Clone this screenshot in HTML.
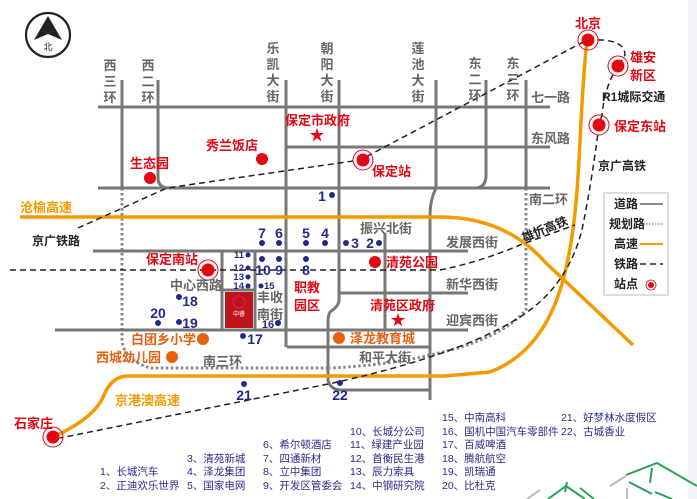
<!DOCTYPE html>
<html><head><meta charset="utf-8"><style>
html,body{margin:0;padding:0;background:#fff}
svg{display:block}
text{font-family:"Liberation Sans","Noto Sans CJK SC",sans-serif}
.g{fill:#666;font-weight:bold;font-size:13px}
.r{fill:#e30613;font-weight:bold;font-size:13px}
.o{fill:#e8600f;font-weight:bold;font-size:13px}
.b{fill:#1f2a8a;font-weight:bold;font-size:14px}
.k{fill:#222;font-weight:bold;font-size:12px}
.l{fill:#2b2b8c;font-size:10.5px}
</style></head><body>
<svg width="697" height="499" viewBox="0 0 697 499" xmlns="http://www.w3.org/2000/svg">
<rect x="0" y="0" width="697" height="499" fill="#fff"/>
<rect x="688" y="0" width="9" height="499" fill="#f4f5f8"/>
<circle cx="48" cy="35" r="22" fill="none" stroke="#222" stroke-width="2.2"/>
<polygon points="48,16 34,40 48,34 62,40" fill="#222"/>
<text x="48" y="50" font-size="9" fill="#222" text-anchor="middle">北</text>

<g fill="none" stroke="#888" stroke-width="3" stroke-dasharray="2.5,2.5">
<path d="M122,188 L122,340 Q124,360 150,368 L330,368"/>
<path d="M526,188 L526,310 Q500,340 430,355 Q390,365 330,368"/>
</g>
<g fill="none" stroke="#777" stroke-width="3">
<path d="M98,107 H550"/><path d="M287,147 H550"/><path d="M98,188 H550"/>
<path d="M122,80 V188"/><path d="M158,80 V178 Q158,188 170,188"/>
<path d="M286,80 V347"/><path d="M339,80 V300 Q339,306 330,312 Q328,316 328,322 V380 Q330,390 342,390 H430"/>
<path d="M436,80 V188 Q430,200 430,215 V400"/>
<path d="M486,80 V175 Q486,188 475,188"/>
<path d="M526,80 V188"/>
<path d="M93,251 H468"/><path d="M338,293 H468"/><path d="M55,330 H468"/><path d="M287,347 H430"/>
<path d="M222,251 V330"/><path d="M255,251 V330"/><path d="M222,290 H255"/>
<path d="M385,233 V330"/>
</g>
<g fill="none" stroke="#f29a00" stroke-width="3.5">
<path d="M20,217 L440,217 Q505,217 545,262 L633,345"/>
<path d="M587,40 C578,120 582,200 566,268 Q548,350 490,372 L445,376 L128,376 Q112,376 104,395 Q95,418 53,437"/>
</g>
<g fill="none" stroke="#222" stroke-width="1.5" stroke-dasharray="6,4">
<path d="M78,228 L167,188 L360,160 L587,40"/>
<path d="M588,40 Q625,38 625,55 L618,66"/>
<path d="M618,66 Q605,85 602,115 L599,125"/>
<path d="M599,125 Q592,180 583,225 Q570,285 520,317 Q460,355 333,383 L60,438"/>
<path d="M10,270 L440,270 Q480,262 520,245 L575,225"/>
</g>
<rect x="604" y="193" width="64" height="102" fill="#fff" stroke="#bbb" stroke-width="1"/>
<text class="k" x="614" y="208" font-size="9">道路</text><line x1="640" y1="204" x2="663" y2="204" stroke="#666" stroke-width="1.5"/>
<text class="k" x="609" y="228" font-size="9">规划路</text><line x1="640" y1="224" x2="663" y2="224" stroke="#666" stroke-width="1" stroke-dasharray="1.5,1.5"/>
<text class="k" x="614" y="248" font-size="9">高速</text><line x1="640" y1="244" x2="663" y2="244" stroke="#f29a00" stroke-width="2"/>
<text class="k" x="614" y="268" font-size="9">铁路</text><line x1="640" y1="264" x2="663" y2="264" stroke="#222" stroke-width="1.5" stroke-dasharray="6,4"/>
<text class="k" x="614" y="288" font-size="9">站点</text><circle cx="651" cy="285" r="5" fill="none" stroke="#e30613" stroke-width=".8"/><circle cx="651" cy="285" r="3" fill="#e30613"/>

<g fill="none" stroke="#e30613" stroke-width="1">
<circle cx="588" cy="40" r="10"/><circle cx="618" cy="66" r="10"/><circle cx="599" cy="125" r="10"/><circle cx="363" cy="160" r="10"/><circle cx="208" cy="270" r="10"/><circle cx="53" cy="437" r="10"/>
</g>
<g fill="#e30613">
<circle cx="588" cy="40" r="6.5"/><circle cx="618" cy="66" r="6.5"/><circle cx="599" cy="125" r="6.5"/><circle cx="363" cy="160" r="6.5"/><circle cx="208" cy="270" r="6.5"/><circle cx="53" cy="437" r="6.5"/>
<circle cx="150" cy="178" r="6"/><circle cx="262" cy="159" r="6"/><circle cx="375" cy="262" r="6"/>
<text x="317" y="140" font-size="15" text-anchor="middle">★</text>
<text x="398" y="325" font-size="15" text-anchor="middle">★</text>
</g>
<g fill="#e8600f"><circle cx="203" cy="339" r="6"/><circle cx="172" cy="357" r="6"/><circle cx="339" cy="338" r="6"/></g>
<rect x="225" y="292" width="28" height="36" fill="#c0141c"/>
<circle cx="239" cy="302" r="6" fill="none" stroke="#f3b" stroke-width=".6" opacity=".7"/>
<text x="239" y="316" font-size="6" fill="#fff" text-anchor="middle">中睿</text>

<text class="r" x="588" y="28" text-anchor="middle">北京</text>
<text class="r" x="630" y="62">雄安</text><text class="r" x="630" y="80">新区</text>
<text class="r" x="614" y="131">保定东站</text>
<text class="r" x="372" y="176">保定站</text>
<text class="r" x="146" y="264">保定南站</text>
<text class="r" x="14" y="428">石家庄</text>
<text class="r" x="130" y="168">生态园</text>
<text class="r" x="206" y="150">秀兰饭店</text>
<text class="r" x="285" y="125">保定市政府</text>
<text class="r" x="386" y="267">清苑公园</text>
<text class="r" x="370" y="310">清苑区政府</text>
<text class="r" x="294" y="292">职教</text><text class="r" x="294" y="310">园区</text>
<text class="o" x="131" y="344">白团乡小学</text>
<text class="o" x="96" y="362">西城幼儿园</text>
<text class="o" x="350" y="343">泽龙教育城</text>
<text class="o" x="20" y="212" style="fill:#f29a00">沧榆高速</text>
<text class="o" x="115" y="405" style="fill:#f29a00">京港澳高速</text>

<text class="k" x="32" y="245">京广铁路</text>
<text class="k" x="598" y="170">京广高铁</text>
<text class="k" x="602" y="101" font-size="9">R1城际交通</text>
<text class="k" x="0" y="0" transform="translate(524,242) rotate(-22)">雄忻高铁</text>

<g class="g" text-anchor="middle">
<text x="110" y="70">西</text><text x="110" y="86">三</text><text x="110" y="102">环</text>
<text x="148" y="70">西</text><text x="148" y="86">二</text><text x="148" y="102">环</text>
<text x="273" y="53">乐</text><text x="273" y="69">凯</text><text x="273" y="85">大</text><text x="273" y="101">街</text>
<text x="327" y="53">朝</text><text x="327" y="69">阳</text><text x="327" y="85">大</text><text x="327" y="101">街</text>
<text x="418" y="53">莲</text><text x="418" y="69">池</text><text x="418" y="85">大</text><text x="418" y="101">街</text>
<text x="475" y="68">东</text><text x="475" y="84">二</text><text x="475" y="100">环</text>
<text x="513" y="68">东</text><text x="513" y="84">三</text><text x="513" y="100">环</text>
<text x="270" y="302">丰收</text><text x="270" y="319">南街</text>
</g>
<g class="g">
<text x="531" y="102">七一路</text><text x="531" y="143">东风路</text><text x="529" y="204">南二环</text>
<text x="360" y="233">振兴北街</text><text x="446" y="247">发展西街</text><text x="446" y="289">新华西街</text><text x="446" y="325">迎宾西街</text>
<text x="359" y="362">和平大街</text><text x="203" y="366">南三环</text><text x="170" y="290">中心西路</text>
</g>

<g fill="#1f2a8a">
<circle cx="332" cy="195" r="3"/><circle cx="262" cy="243" r="3"/><circle cx="279" cy="243" r="3"/><circle cx="306" cy="243" r="3"/><circle cx="325" cy="243" r="3"/>
<circle cx="346" cy="243" r="3"/><circle cx="379" cy="243" r="3"/>
<circle cx="248" cy="255" r="2.5"/><circle cx="248" cy="268" r="2.5"/><circle cx="248" cy="277" r="2.5"/><circle cx="248" cy="286" r="2.5"/>
<circle cx="262" cy="259" r="3"/><circle cx="279" cy="259" r="3"/><circle cx="306" cy="259" r="3"/>
<circle cx="261" cy="286" r="2.5"/><circle cx="278" cy="323" r="3"/><circle cx="243" cy="336" r="3"/>
<circle cx="179" cy="297" r="3"/><circle cx="179" cy="322" r="3"/><circle cx="158" cy="323" r="3"/>
<circle cx="244" cy="384" r="3"/><circle cx="340" cy="383" r="3"/>
</g>
<g class="b" text-anchor="middle">
<text x="322" y="201">1</text><text x="262" y="238">7</text><text x="279" y="238">6</text><text x="306" y="238">5</text><text x="325" y="238">4</text>
<text x="355" y="248">3</text><text x="370" y="248">2</text>
<text x="263" y="275">10</text><text x="279" y="275">9</text><text x="306" y="275">8</text>
<text x="190" y="306">18</text><text x="190" y="328">19</text><text x="158" y="318">20</text>
<text x="268" y="328" font-size="11">16</text><text x="255" y="344">17</text>
<text x="244" y="400">21</text><text x="340" y="400">22</text>
</g>
<g class="b" text-anchor="end" style="font-size:9.5px">
<text x="244" y="258">11</text><text x="244" y="271">12</text><text x="244" y="280">13</text><text x="244" y="289">14</text>
</g>
<text class="b" x="264" y="289" style="font-size:9.5px">15</text>

<g class="l">
<text x="100" y="475">1、长城汽车</text><text x="100" y="489">2、正迪欢乐世界</text>
<text x="187" y="462">3、清苑新城</text><text x="187" y="475">4、泽龙集团</text><text x="187" y="489">5、国家电网</text>
<text x="263" y="448">6、希尔顿酒店</text><text x="263" y="462">7、四通新材</text><text x="263" y="475">8、立中集团</text><text x="263" y="489">9、开发区管委会</text>
<text x="350" y="435">10、长城分公司</text><text x="350" y="448">11、绿建产业园</text><text x="350" y="462">12、首衡民生港</text><text x="350" y="475">13、辰力索具</text><text x="350" y="489">14、中钢研究院</text>
<text x="442" y="421">15、中南高科</text><text x="442" y="435">16、国机中国汽车零部件</text><text x="442" y="448">17、百威啤酒</text><text x="442" y="462">18、腾航航空</text><text x="442" y="475">19、凯瑞通</text><text x="442" y="489">20、比杜克</text>
<text x="561" y="421">21、好梦林水度假区</text><text x="561" y="435">22、古城香业</text>
</g>
<g fill="none" stroke-width="2">
<path d="M548,499 L566,486 L585,499" stroke="#2aa35a"/><path d="M527,499 L540,490" stroke="#bbb"/>
<path d="M567,482 L565,492" stroke="#2aa35a"/><path d="M580,488 L594,499" stroke="#2aa35a"/>
<path d="M626,475 L657,463 L697,486" stroke="#2aa35a"/><path d="M610,486 L626,476" stroke="#bbb"/>
<path d="M652,468 L650,483" stroke="#2aa35a"/><path d="M629,482 L652,494" stroke="#2aa35a"/>
<path d="M627,488 L627,499" stroke="#bbb"/><path d="M655,492 L672,499" stroke="#2aa35a"/>
</g>
</svg>
</body></html>
